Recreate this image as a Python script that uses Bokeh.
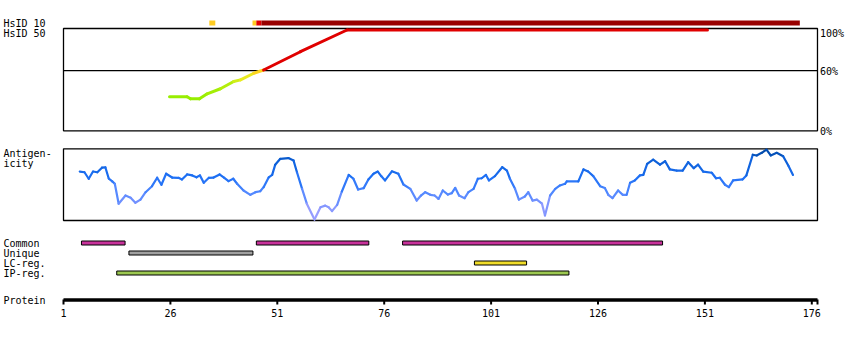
from bokeh.plotting import figure
from bokeh.models import Range1d
from bokeh.embed import file_html
from bokeh.resources import INLINE
from bokeh.core.properties import value

# ---------------- data ----------------
# Identity to human (HsID) curve: residue position, % identity
ident_pos = [25.8, 29.9, 30.7, 32.8, 34.6, 37.7, 40.8, 42.4, 45.5, 47.8, 56.4, 67.3, 151.6]
ident_pct = [34.2, 34.2, 32.2, 32.2, 37.1, 42.1, 49.3, 50.9, 57.4, 60.6, 78.6, 100.0, 100.0]

# HsID 10 track segments (residue ranges) and their identity class colour
hsid10_start = [35.1, 45.2, 46.1, 47.3]
hsid10_end = [36.5, 46.1, 47.3, 173.2]
hsid10_color = ["#ffcc22", "#ffcc22", "#e00000", "#990000"]

# Antigenicity profile: residue position, score
antig_pos = [4.8, 5.9, 6.9, 7.9, 8.9, 10.0, 10.8, 11.6, 12.4, 13.0, 13.9, 15.5, 16.7, 17.8, 19.0,
             20.2, 21.7, 22.9, 23.9, 25.0, 26.4, 27.9, 28.7, 29.9, 31.1, 32.1, 32.9, 33.8, 35.0,
             36.1, 37.5, 38.6, 39.6, 40.7, 41.6, 43.1, 44.7, 45.9, 47.0, 47.8, 49.0, 49.8, 50.5,
             51.7, 53.6, 54.8, 55.6, 56.8, 57.9, 59.7, 61.1, 62.2, 63.0, 63.8, 65.0, 66.1, 67.7,
             68.8, 69.9, 71.2, 72.3, 73.5, 74.5, 75.3, 76.2, 77.8, 79.3, 80.5, 82.1, 83.6, 84.6,
             85.6, 86.8, 87.8, 88.7, 89.7, 90.9, 91.8, 92.6, 93.5, 94.8, 95.7, 96.9, 97.9, 98.8,
             99.8, 100.5, 101.9, 103.6, 104.7, 105.4, 106.6, 107.5, 108.9, 109.7, 110.7, 111.7,
             112.9, 113.6, 114.8, 116.0, 117.1, 118.3, 118.7, 121.4, 122.6, 123.7, 124.9, 126.5,
             127.6, 128.4, 129.4, 130.7, 131.8, 132.7, 133.5, 134.6, 135.8, 136.6, 137.5, 138.9,
             140.5, 141.7, 142.8, 144.4, 145.8, 147.1, 148.4, 149.4, 150.6, 152.6, 153.6, 154.5,
             155.7, 156.6, 157.6, 159.8, 160.7, 162.2, 163.1, 164.3, 165.4, 166.4, 167.8, 169.3,
             170.5, 171.6]
antig_score = [0.54, 0.51, 0.24, 0.54, 0.51, 0.70, 0.71, 0.24, 0.13, 0.03, -0.80, -0.46, -0.55,
               -0.76, -0.63, -0.32, -0.07, 0.28, -0.01, 0.45, 0.29, 0.28, 0.21, 0.42, 0.38, 0.30,
               0.38, 0.07, 0.28, 0.29, 0.42, 0.28, 0.14, 0.24, 0.03, -0.25, -0.43, -0.32, -0.28,
               -0.11, 0.30, 0.40, 0.82, 1.07, 1.10, 1.00, 0.51, -0.18, -0.80, -1.46, -0.95, -0.88,
               -0.95, -1.11, -0.85, -0.29, 0.40, 0.24, -0.21, -0.15, 0.21, 0.45, 0.54, 0.35, 0.17,
               0.55, 0.45, 0.00, -0.18, -0.67, -0.46, -0.32, -0.43, -0.46, -0.60, -0.25, -0.42,
               -0.36, -0.14, -0.46, -0.57, -0.32, -0.18, 0.24, 0.26, 0.40, 0.17, 0.35, 0.72, 0.58,
               0.24, -0.18, -0.63, -0.50, -0.32, -0.67, -0.63, -0.80, -1.29, -0.46, -0.18, -0.04,
               0.03, 0.13, 0.13, 0.63, 0.54, 0.35, -0.07, -0.15, -0.43, -0.57, -0.25, -0.43, -0.43,
               0.07, 0.17, 0.38, 0.40, 0.86, 1.04, 0.83, 0.97, 0.63, 0.58, 0.58, 0.93, 0.68, 0.83,
               0.54, 0.49, 0.26, 0.28, -0.01, -0.11, 0.17, 0.21, 0.38, 1.24, 1.21, 1.32, 1.45,
               1.21, 1.32, 1.18, 0.79, 0.40]

# Feature regions
feat_row = ["Common", "Common", "Common", "Unique", "LC-reg.", "IP-reg."]
feat_start = [5.2, 46.1, 80.3, 16.3, 97.1, 13.45]
feat_end = [15.4, 72.4, 141.1, 45.3, 109.3, 119.2]
row_names = ["Common", "Unique", "LC-reg.", "IP-reg."]
row_colors = {"Common": "#c8329b", "Unique": "#a0a0a0", "LC-reg.": "#f0dc28", "IP-reg.": "#9cc850"}

tick_values = [1, 26, 51, 76, 101, 126, 151, 176]
protein_end = 177.33
pct_labels = ["100%", "60%", "0%"]

# ---------------- layout ----------------
W, H = 850, 340
X0 = 63            # pixel of residue 1
PX_RES = 4.276     # pixels per residue
res_lo = 1 - X0 / PX_RES
res_hi = 1 + (W - X0) / PX_RES

PCT0_Y, PCT100_Y = 131.0, 29.5
px_pct = (PCT0_Y - PCT100_Y) / 100.0
ANT0_Y, PX_ANT = 184.0, 24.0

p = figure(width=W, height=H, output_backend="svg", toolbar_location=None,
           x_range=Range1d(0, W), y_range=Range1d(H, 0),
           x_axis_location=None, y_axis_location=None, min_border=0,
           outline_line_color=None, background_fill_color="white", border_fill_color="white")
p.grid.visible = False
p.extra_x_ranges = {"res": Range1d(res_lo, res_hi)}
p.extra_y_ranges = {
    "ident": Range1d(-(H - PCT0_Y) / px_pct, 100 + PCT100_Y / px_pct),
    "antig": Range1d(-(H - ANT0_Y) / PX_ANT, ANT0_Y / PX_ANT),
}

XR = X0 + (protein_end - 1) * PX_RES
FONT = value("DejaVu Sans Mono")


def lerp(v, stops):
    if v <= stops[0][0]:
        c = stops[0][1]
    elif v >= stops[-1][0]:
        c = stops[-1][1]
    else:
        for (a, ca), (b, cb) in zip(stops, stops[1:]):
            if a <= v <= b:
                t = (v - a) / (b - a)
                c = tuple(ca[i] + (cb[i] - ca[i]) * t for i in range(3))
                break
    return "#%02x%02x%02x" % tuple(int(round(x)) for x in c)


# boxes
p.quad(left=[X0, X0], right=[XR, XR], top=[28, 148.3], bottom=[130.3, 220],
       fill_color=None, line_color="black", line_width=1.3)
# 60% line
p.segment(x0=[X0], x1=[XR], y0=[60], y1=[60], y_range_name="ident",
          line_color="black", line_width=1.3)

# HsID 10 track
p.quad(left=hsid10_start, right=hsid10_end, top=[20] * 4, bottom=[25] * 4,
       x_range_name="res", fill_color=hsid10_color, line_color=None)

# identity curve
id_stops = [(33, (150, 238, 0)), (45, (175, 238, 10)), (52, (220, 238, 30)),
            (57, (250, 228, 34)), (60, (255, 205, 30)), (60.01, (224, 0, 0)), (100, (224, 0, 0))]
id_cols = [lerp((a + b) / 2, id_stops) for a, b in zip(ident_pct[:-1], ident_pct[1:])]
p.segment(x0=ident_pos[:-1], x1=ident_pos[1:], y0=ident_pct[:-1], y1=ident_pct[1:],
          x_range_name="res", y_range_name="ident", line_color=id_cols, line_width=3,
          line_cap="round")

# antigenicity curve
ag_stops = [(-1.46, (170, 165, 255)), (-0.8, (125, 148, 255)), (-0.3, (78, 135, 255)),
            (0.3, (30, 112, 245)), (1.0, (12, 95, 215)), (1.45, (0, 72, 165))]
ag_cols = [lerp((a + b) / 2, ag_stops) for a, b in zip(antig_score[:-1], antig_score[1:])]
p.segment(x0=antig_pos[:-1], x1=antig_pos[1:], y0=antig_score[:-1], y1=antig_score[1:],
          x_range_name="res", y_range_name="antig", line_color=ag_cols, line_width=2.2,
          line_cap="round")

# feature bars
row_y = {n: 242.5 + 10 * i for i, n in enumerate(row_names)}
p.quad(left=feat_start, right=feat_end,
       top=[row_y[r] - 2 for r in feat_row], bottom=[row_y[r] + 2 for r in feat_row],
       x_range_name="res", fill_color=[row_colors[r] for r in feat_row],
       line_color="black", line_width=1)

# protein axis
p.segment(x0=[X0], x1=[XR], y0=[299.5], y1=[299.5], line_color="black", line_width=3.6)
p.segment(x0=tick_values + [protein_end], x1=tick_values + [protein_end],
          y0=[299] * (len(tick_values) + 1), y1=[304] * (len(tick_values) + 1),
          x_range_name="res", line_color="black", line_width=2)
p.text(x=tick_values, y=[312.3] * len(tick_values), text=[str(t) for t in tick_values],
       x_range_name="res", text_font=FONT, text_font_size="10px", text_align="center",
       text_baseline="middle", text_color="black")

# left labels
left_txt = ["HsID 10", "HsID 50", "Antigen-", "icity"] + row_names + ["Protein"]
left_y = [22.7, 33, 152.7, 162.5] + [243.2 + 10 * i for i in range(len(row_names))] + [299.9]
p.text(x=[3] * len(left_txt), y=left_y, text=left_txt, text_font=FONT,
       text_font_size="10px", text_align="left", text_baseline="middle",
       text_color="black")

# right % labels
p.text(x=[819.5] * 3, y=[33, 71, 130.5], text=pct_labels,
       text_font=FONT, text_font_size="10px", text_align="left", text_baseline="middle",
       text_color="black")

open("out.html", "w").write(file_html(p, INLINE))
